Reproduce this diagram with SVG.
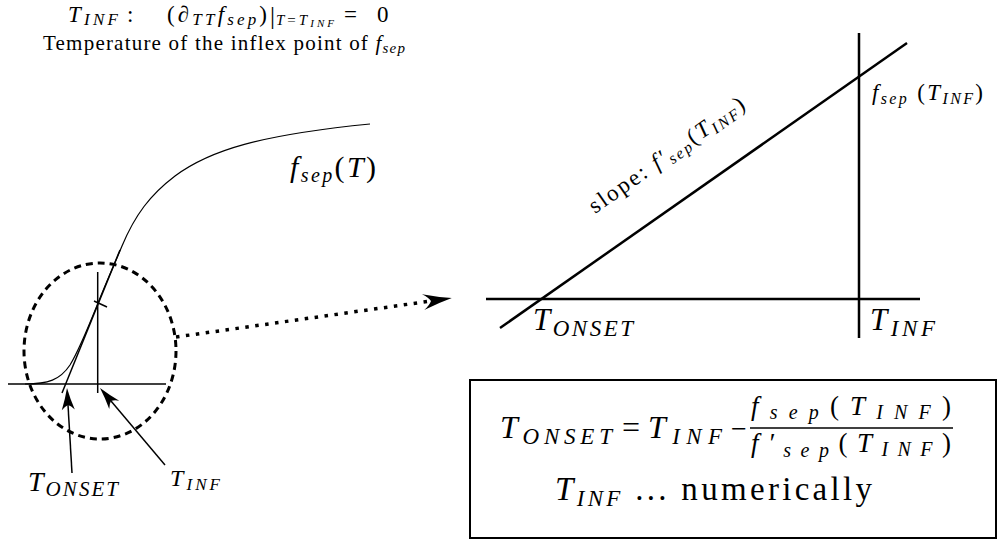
<svg xmlns="http://www.w3.org/2000/svg" width="997" height="542" viewBox="0 0 997 542">
<style>
text { font-family: "Liberation Serif", "Times New Roman", "DejaVu Serif", serif; fill: #000; }
.i { font-style: italic; }
.thin { fill: none; stroke: #000; stroke-width: 1.2; }
.ln { fill: none; stroke: #000; stroke-width: 1.5; }
.bold { fill: none; stroke: #000; stroke-width: 2.5; }
</style>
<defs>
<marker id="bigArrow" viewBox="-30 -9 32 18" refX="-21" refY="0" markerWidth="32" markerHeight="18" markerUnits="userSpaceOnUse" orient="auto">
<path d="M0,0 Q-14,-3 -29,-8 Q-23,-4 -21,0 Q-23,4 -29,8 Q-14,3 0,0 Z" fill="#000"/>
</marker>
<marker id="smallArrow" viewBox="-24 -8 26 16" refX="-17" refY="0" markerWidth="26" markerHeight="16" markerUnits="userSpaceOnUse" orient="auto">
<path d="M0,0 Q-11,-2.5 -22,-6.5 Q-18,-3 -17,0 Q-18,3 -22,6.5 Q-11,2.5 0,0 Z" fill="#000"/>
</marker>
</defs>

<g id="header">
<text x="68" y="22" font-size="23" class="i" textLength="50" lengthAdjust="spacing">T<tspan font-size="17" dy="3">INF</tspan></text>
<text x="127" y="22" font-size="23">:</text>
<text x="167" y="22" font-size="23" textLength="100" lengthAdjust="spacing">(∂<tspan class="i" font-size="17" dy="3">TT</tspan><tspan class="i" dy="-3">f</tspan><tspan class="i" font-size="17" dy="3">sep</tspan><tspan dy="-3">)</tspan></text>
<text x="270" y="24" font-size="25">|</text>
<text x="276" y="25" font-size="15" textLength="58" lengthAdjust="spacing"><tspan class="i">T</tspan>=<tspan class="i">T</tspan><tspan class="i" font-size="11" dy="2">INF</tspan></text>
<text x="344" y="22" font-size="23">=</text>
<text x="377" y="22" font-size="23">0</text>
<text x="43" y="50" font-size="21" textLength="362" lengthAdjust="spacing">Temperature of the inflex point of <tspan class="i">f</tspan><tspan class="i" font-size="15" dy="3">sep</tspan></text>
</g>

<g id="curve-plot">
<path class="thin" d="M25,384 C48,384 60,380 70,365 C78,352 88,328 98,303 C108,278 115,263 122,246 C135,215 150,195 175,176 C210,150 260,135 370,124"/>
<line class="ln" x1="8" y1="384" x2="166" y2="384"/>
<line class="ln" x1="97.7" y1="272" x2="97.7" y2="393"/>
<line class="ln" x1="62" y1="393" x2="120" y2="250"/>
<line class="ln" x1="94" y1="301" x2="107" y2="307"/>
<text x="290" y="177" font-size="30" class="i" textLength="86" lengthAdjust="spacing">f<tspan font-size="20" dy="5">sep</tspan><tspan dy="-5" font-style="normal">(</tspan>T<tspan font-style="normal">)</tspan></text>
</g>

<g id="zoom-circle">
<ellipse cx="100" cy="351" rx="76" ry="88" fill="none" stroke="#000" stroke-width="3" stroke-dasharray="7 5"/>
</g>

<g id="label-tonset-left">
<text x="28" y="491" font-size="28" class="i" textLength="90" lengthAdjust="spacing">T<tspan font-size="21" dy="5">ONSET</tspan></text>
</g>
<g id="label-tinf-left">
<text x="170" y="486" font-size="24" class="i" textLength="50" lengthAdjust="spacing">T<tspan font-size="17" dy="4">INF</tspan></text>
</g>

<g id="tangent-plot">
<line class="bold" x1="486" y1="299" x2="920" y2="299"/>
<line class="bold" x1="859" y1="33" x2="859" y2="338"/>
<line class="bold" x1="500" y1="328" x2="907" y2="43"/>
<text x="533" y="330" font-size="31" class="i" textLength="100" lengthAdjust="spacing">T<tspan font-size="23" dy="6">ONSET</tspan></text>
<text x="870" y="330" font-size="31" class="i" textLength="65" lengthAdjust="spacing">T<tspan font-size="23" dy="6">INF</tspan></text>
<text x="872" y="100" font-size="23" class="i" textLength="111" lengthAdjust="spacing">f<tspan font-size="16" dy="4">sep</tspan><tspan dy="-4" font-style="normal"> (</tspan>T<tspan font-size="16" dy="4">INF</tspan><tspan dy="-4" font-style="normal">)</tspan></text>
<text transform="translate(595,214) rotate(-35)" font-size="23" textLength="185" lengthAdjust="spacing">slope: <tspan class="i">f′</tspan><tspan class="i" font-size="16" dy="4">sep</tspan><tspan dy="-4">(</tspan><tspan class="i">T</tspan><tspan class="i" font-size="16" dy="4">INF</tspan><tspan dy="-4">)</tspan></text>
</g>

<g id="formula-box">
<rect x="470" y="380" width="526" height="158" fill="none" stroke="#000" stroke-width="2"/>
<text x="500" y="438" font-size="32" class="i" textLength="112" lengthAdjust="spacing">T<tspan font-size="23" dy="6">ONSET</tspan></text>
<text x="622" y="438" font-size="32">=</text>
<text x="648" y="438" font-size="32" class="i" textLength="74" lengthAdjust="spacing">T<tspan font-size="23" dy="6">INF</tspan></text>
<text x="731" y="438" font-size="28">−</text>
<text x="751" y="415" font-size="27" textLength="200" lengthAdjust="spacing"><tspan class="i">f</tspan><tspan class="i" font-size="20" dy="4">sep</tspan><tspan dy="-4">(</tspan><tspan class="i">T</tspan><tspan class="i" font-size="20" dy="4">INF</tspan><tspan dy="-4">)</tspan></text>
<line x1="750" y1="428" x2="953" y2="428" stroke="#000" stroke-width="1.5"/>
<text x="751" y="452" font-size="27" textLength="200" lengthAdjust="spacing"><tspan class="i">f′</tspan><tspan class="i" font-size="20" dy="5">sep</tspan><tspan dy="-5">(</tspan><tspan class="i">T</tspan><tspan class="i" font-size="20" dy="4">INF</tspan><tspan dy="-4">)</tspan></text>
<text x="555" y="500" font-size="33" textLength="317" lengthAdjust="spacing"><tspan class="i">T</tspan><tspan class="i" font-size="23" dy="6">INF</tspan><tspan dy="-6"> ... numerically</tspan></text>
</g>

<g id="connectors">
<line x1="176" y1="337" x2="431" y2="301" stroke="#000" stroke-width="3.5" stroke-dasharray="3.5 6.5" marker-end="url(#bigArrow)"/>
<line x1="72" y1="473" x2="68" y2="405" stroke="#000" stroke-width="1.5" marker-end="url(#smallArrow)"/>
<line x1="165" y1="465" x2="111" y2="401" stroke="#000" stroke-width="1.5" marker-end="url(#smallArrow)"/>
</g>
</svg>
